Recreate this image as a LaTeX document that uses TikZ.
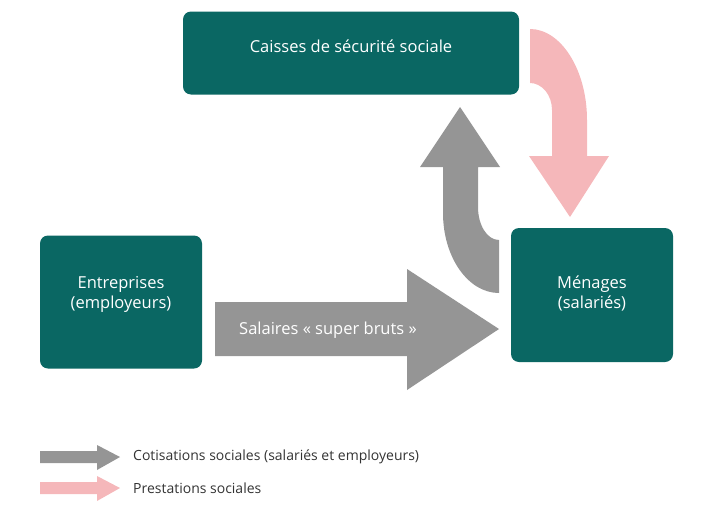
\documentclass[tikz,border=0pt]{standalone}
\usepackage{fontspec}
\setmainfont{Open Sans}
\usetikzlibrary{positioning}
\definecolor{teal}{HTML}{0A6763}
\definecolor{flowgrey}{HTML}{959595}
\definecolor{flowpink}{HTML}{F5B7BA}
\definecolor{legendtext}{HTML}{333333}

\begin{document}
\begin{tikzpicture}[x=1pt, y=-1pt,
    box/.style = {draw = none, fill = teal, rounded corners = 8pt, text = white,
                  align = center, font = \fontsize{16.5}{20}\selectfont},
    legend/.style = {anchor = west, text = legendtext, inner sep = 0pt,
                     font = \fontsize{14}{16}\selectfont}]
    \useasboundingbox (0,0) rectangle (720,506);

    % boxes
    \node (caisses) at (351,53) [box, minimum width = 336pt, minimum height = 83pt,
        text depth = 13pt] {Caisses de sécurité sociale};
    \node (entreprises) at (121,302) [box, minimum width = 162pt, minimum height = 133pt,
        text depth = 20pt] {Entreprises\\(employeurs)};
    \node (menages) at (592,295) [box, minimum width = 162pt, minimum height = 134pt,
        text depth = 5pt] {Ménages\\(salariés)};

    % salaires
    \fill[flowgrey] (215,302) -- (407,302) -- (407,269) -- (499,329)
        -- (407,390) -- (407,356) -- (215,356) -- cycle;
    \node (salaires) at (328,330) [text = white, font = \fontsize{16.5}{20}\selectfont]
        {Salaires «~super bruts~»};

    % cotisations
    \fill[flowgrey] (499,293) .. controls (468,293) and (443,257) .. (443,213)
        -- (443,167) -- (420,167) -- (460,107) -- (500,167) -- (478,167) -- (478,207)
        .. controls (478,225) and (487,240) .. (499,240) -- cycle;

    % prestations
    \fill[flowpink] (530,29) .. controls (561,29) and (587,70) .. (587,120)
        -- (587,156) -- (609,156) -- (570,217) -- (529,156) -- (552,156) -- (552,110)
        .. controls (552,95) and (542,83) .. (530,83) -- cycle;

    % legend
    \foreach \name/\col/\y/\txt in {cotis/flowgrey/457/{Cotisations sociales (salariés et employeurs)},
                                    prest/flowpink/488/{Prestations sociales}}{
        \fill[\col] (40,\y-6) -- (97,\y-6) -- (97,\y-12) -- (120,\y)
            -- (97,\y+13) -- (97,\y+6) -- (40,\y+6) -- cycle;
        \node (\name) at (133,\y) [legend] {\txt};
    }
\end{tikzpicture}
\end{document}
